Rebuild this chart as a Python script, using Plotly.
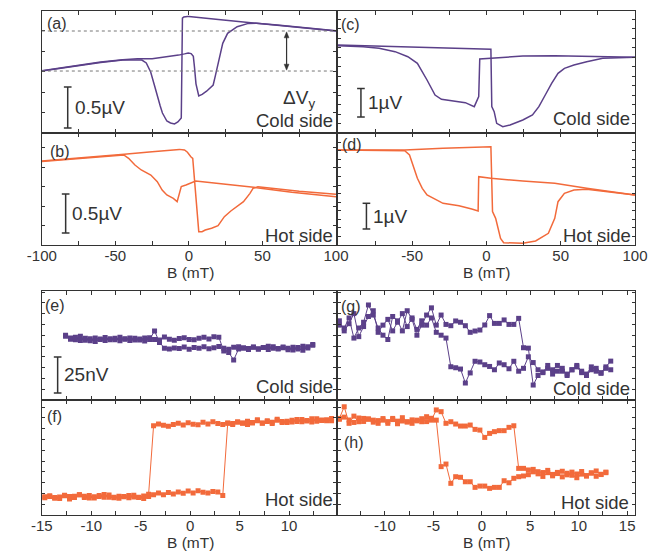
import plotly.graph_objects as go

W, H = 670, 552
PURPLE = '#5b4089'
ORANGE = '#f26a3b'
INK = '#333333'
FONT = 'Arial, Liberation Sans, Helvetica, sans-serif'

# ---------------- data: top panels (B in mT, V in microvolt) ----------------
a1_B = [-100, -80, -60, -45, -35, -32, -29, -26, -23.5, -21.5, -19.5, -18, -15, -12.5, -9.8, -7.5, -6.5, -5.2, -4.4, -3.5, -1, 0, 20, 40, 60, 80, 100]
a1_V = [0.756, 0.811, 0.860, 0.890, 0.896, 0.890, 0.854, 0.744, 0.585, 0.439, 0.329, 0.244, 0.146, 0.122, 0.110, 0.134, 0.159, 0.183, 1.402, 1.415, 1.421, 1.421, 1.384, 1.348, 1.311, 1.277, 1.244]
a2_B = [-100, -80, -60, -45, -35, -25, -15, -7, -3, -0.5, 1.5, 3.0, 3.8, 4.8, 6.7, 9, 12, 15, 16.5, 18, 19.8, 21.5, 23, 26.3, 32.8, 40.4, 46, 60, 80, 100]
a2_V = [0.760, 0.815, 0.865, 0.894, 0.905, 0.905, 0.927, 0.950, 0.965, 0.976, 0.968, 0.935, 0.80, 0.60, 0.451, 0.47, 0.51, 0.56, 0.585, 0.70, 0.85, 0.98, 1.094, 1.216, 1.297, 1.337, 1.340, 1.316, 1.282, 1.248]
a_levels = [0.756, 1.244]
a_arrow_B = 66.4

b1_B = [-100, -70, -44, -25, -6.5, -3, -1.0, 1.3, 2.6, 6.7, 8.9, 11.1, 15.4, 19.8, 24.1, 28.5, 32.8, 37.1, 41.5, 43.6, 46.9, 52.3, 75, 100]
b1_V = [1.077, 1.12, 1.162, 1.195, 1.226, 1.218, 1.19, 1.132, 1.111, 0.171, 0.171, 0.192, 0.214, 0.248, 0.363, 0.436, 0.491, 0.556, 0.662, 0.726, 0.748, 0.735, 0.69, 0.650]
b2_B = [-100, -70, -44.3, -41, -36.7, -32.4, -25.9, -21.5, -18.2, -15, -10.6, -8, -6.5, -5.2, -2, 1.3, 4.6, 25, 46, 70, 100]
b2_V = [1.072, 1.115, 1.154, 1.111, 1.026, 0.962, 0.897, 0.812, 0.705, 0.641, 0.598, 0.556, 0.66, 0.748, 0.769, 0.791, 0.821, 0.778, 0.735, 0.675, 0.620]

c1_B = [-100, -50, 0, 3.0, 3.6, 5.2, 6.9, 9.5, 11, 15.9, 24.5, 31, 35.3, 39.6, 43.9, 48.2, 52.5, 58.9, 67.5, 78.3, 100]
c1_V = [3.088, 3.02, 2.955, 2.936, 0.924, 0.749, 0.339, 0.246, 0.222, 0.281, 0.456, 0.632, 0.924, 1.333, 1.743, 2.094, 2.269, 2.386, 2.503, 2.620, 2.655]
c2_B = [-100, -83, -72.3, -61.5, -52.9, -46.5, -40, -34.6, -30.3, -22.8, -14.2, -8.2, -6.0, -5.2, -4.5, 24.5, 46, 78.3, 100]
c2_V = [3.064, 3.029, 2.971, 2.854, 2.678, 2.444, 1.860, 1.333, 1.181, 1.135, 1.064, 0.924, 1.158, 1.275, 2.596, 2.702, 2.713, 2.678, 2.655]

d1_B = [-100, -55, -29.2, 3.0, 4.1, 6.2, 9.5, 11.6, 24.5, 33.1, 41.7, 46, 48.2, 52.5, 58.9, 67.5, 100]
d1_V = [3.696, 3.696, 3.761, 3.826, 1.297, 1.038, 0.259, 0.091, 0.065, 0.156, 0.454, 1.038, 1.686, 2.010, 2.140, 2.166, 1.946]
d2_B = [-100, -55, -51.8, -49.7, -47.5, -46.5, -43.2, -40, -29.2, -18.5, -9.9, -5.6, -5.2, 3.0, 24.5, 46, 67.5, 100]
d2_V = [3.70, 3.671, 3.502, 3.113, 2.724, 2.594, 2.205, 1.946, 1.621, 1.530, 1.401, 1.323, 2.659, 2.594, 2.490, 2.399, 2.205, 1.946]

# ---------------- data: bottom panels (B grid in mT, V in nV) ----------------
e_B0, f_B0, g_B0, h_B0 = -12.6, -14.7, -14.7, -14.7
B_STEP = 0.5
e_up = [45.0, 43.0, 41.8, 44.2, 41.5, 42.6, 40.6, 42.3, 43.4, 41.9, 42.8, 41.2, 42.5, 43.1, 41.7, 42.4, 41.0, 43.2, 42.1, 41.6,
        43.8, 42.2, 41.5, 42.7, 43.3, 42.0, 41.8, 42.9, 43.5, 42.4, 44.0, 43.6,
        34.0, 33.0, 27.8, 35.4, 36.2, 35.0, 36.8, 35.6, 36.4, 35.1, 37.0, 35.8, 36.3, 34.9, 36.6, 35.5, 34.6, 36.9, 38.0]
e_down = [44.3, 42.2, 43.5, 41.4, 42.9, 41.1, 43.0, 42.0, 41.4, 42.6, 41.9, 43.5, 42.2, 41.3, 42.8, 41.7, 43.1, 42.0, 48.0,
          40.0, 36.0, 35.4, 36.2, 35.7, 36.8, 35.2, 36.5, 35.9, 36.9, 35.6, 36.3, 37.1, 36.0, 35.3, 36.6, 37.0, 36.1, 35.8, 36.7,
          35.2, 36.4, 37.3, 36.0, 35.5, 36.8, 35.9, 34.8, 36.5, 37.4, 36.2, 38.5]
f_up = [12.0, 12.8, 11.6, 12.5, 13.4, 11.2, 13.0, 14.0, 12.2, 13.6, 11.8, 12.9, 14.3, 12.4, 11.9, 13.1, 12.6, 12.0, 13.8, 12.3,
        11.5, 12.8, 14.0, 15.2, 14.1, 15.6, 14.6, 16.0, 15.1, 16.6, 15.3, 16.9, 15.8, 15.2, 16.4, 15.9, 13.6,
        63.8, 62.9, 64.6, 63.7, 65.1, 64.0, 66.2, 63.9, 65.5, 64.4, 66.6, 65.0, 64.2, 65.8, 64.9, 66.4, 65.3, 64.7, 66.9, 65.6, 66.1, 65.4]
f_down = [12.6, 13.3, 12.1, 11.4, 13.7, 12.9, 12.2, 14.1, 13.0, 11.8, 12.7, 13.5, 12.4, 13.9, 12.3, 11.7, 12.9, 13.6, 12.5, 12.1, 13.2, 14.5,
          62.0, 63.2, 62.4, 61.6, 62.9, 63.8, 62.5, 64.1, 63.0, 62.7, 64.4, 63.3, 64.8, 63.6, 62.9, 64.0, 63.5, 64.6, 63.9, 62.8,
          64.3, 65.5, 63.7, 64.9, 63.6, 65.9, 64.2, 65.1, 64.6, 66.3, 64.8, 65.7, 66.8, 65.2, 66.0, 65.4, 67.0]
g_up = [52, 50, 57, 43, 50, 54, 66, 59, 50, 45, 42, 58, 55, 48, 62, 56, 45, 52, 59, 64,
        52, 59, 52.5, 51.6, 54.9, 54, 51.6, 47, 47.9, 48.6, 52.1, 58.6, 53.2, 53.2, 55.6, 52.5, 52.5, 56.7,
        36.3, 36, 10.4, 17, 19.5, 22, 21, 24, 20, 18, 21, 23, 19, 17, 21, 20, 18.5, 22, 21]
g_down = [55, 48, 53, 60, 44, 51, 58, 62, 47, 52, 56, 48, 54, 60, 51, 57, 49, 55, 52, 57,
          47, 45, 43,
          23.1, 22.4, 21.5, 11.8, 18.8, 26.9, 26.4, 24.5, 23.3, 21, 25.7, 24.5, 21.7, 26.9, 20,
          22, 30, 26, 21, 19, 24, 18, 20, 22, 17, 21, 24, 20, 18, 23, 22, 19, 23, 27]
h_up = [67.1, 75.2, 63.7, 68.7, 64.8, 67.1, 66.5, 65.9, 63.7, 65.9, 63.7, 67.1, 63.4, 65.3, 64.8, 63.7, 65.9, 64.8, 68.3, 65.9,
        73, 71.8, 63.7, 64.8, 63.2, 61.8, 61.8, 62.5, 59.5, 59, 53.9, 56.7, 57.9, 58.6, 58.6, 60.9, 62.0,
        32.4, 32.4, 31.3, 31.7, 30.1, 29.5, 31.0, 28.2, 29.6, 30.4, 27.9, 29.8, 28.5, 30.2, 27.4, 29.1, 30.6, 28.3, 29.4]
h_down = [66.5, 68.0, 66.0, 64.3, 67.4, 65.0, 66.8, 64.5, 65.6, 67.0, 64.9, 66.3, 65.2, 67.6, 64.6, 66.1, 65.4, 66.9, 64.9, 67.2, 65.9,
          33.6, 35.4, 22, 26.6, 26.2, 23.1, 23.1, 19.2, 20.1, 20.1, 18.5, 19.2, 19.2, 23.8, 22.4, 25.5,
          26.6, 27.1, 28.0, 30.0, 28.6, 26.8, 29.4, 27.2, 28.8, 26.5, 29.0, 27.6, 25.9, 28.4, 27.0, 29.3, 26.9, 28.1, 29.8]

# scale bars: (panel, B position, V bottom, length, label)
scale_bars = [('a', -82.4, 0.061, 0.5, '0.5µV'), ('b', -83.8, 0.154, 0.5, '0.5µV'),
              ('c', -84.5, 0.561, 1.0, '1µV'), ('d', -80.8, 0.623, 1.0, '1µV'),
              ('e', -13.4, 4.9, 25.0, '25nV')]

# tick labels
top_vals_b = [-100, -50, 0, 50, 100]
top_vals_d = [-50, 0, 50, 100]
bot_vals_f = [-15, -10, -5, 0, 5, 10]
bot_vals_h = [-10, -5, 0, 5, 10, 15]


def grid(b0, n):
    return [round(b0 + B_STEP * i, 2) for i in range(n)]


# ---------------- layout geometry (pixels) ----------------
P = {
    'a': (1, 28, 335, 11, 133, [-100, 100], [0, 1.488]),
    'b': (2, 28, 335, 133, 245, [-100, 100], [0, 1.436]),
    'c': (3, 337, 647, 11, 133, [-100, 100], [0, 4.281]),
    'd': (4, 337, 647, 133, 245, [-100, 100], [0, 4.358]),
    'e': (5, 28, 335, 291, 400, [-15, 14.75], [0, 75.7]),
    'f': (6, 28, 335, 400, 515, [-15, 14.75], [0, 79.9]),
    'g': (7, 337, 647, 291, 400, [-14.85, 15.8], [0, 75.7]),
    'h': (8, 337, 647, 400, 515, [-14.85, 15.8], [0, 79.9]),
}
YDT = {'a': 0.25, 'b': 0.25, 'c': 1 / 3, 'd': 1 / 3, 'e': 7.5, 'f': 7.5, 'g': 7.5, 'h': 7.5}
TICKS = {'a': top_vals_b, 'b': top_vals_b, 'c': top_vals_d, 'd': top_vals_d,
         'e': bot_vals_f, 'f': bot_vals_f, 'g': bot_vals_h, 'h': bot_vals_h}

fig = go.Figure()


def ax(name):
    i = P[name][0]
    return ('x' if i == 1 else f'x{i}'), ('y' if i == 1 else f'y{i}')


def add_line(name, B, V, color):
    xa, ya = ax(name)
    fig.add_trace(go.Scatter(x=B, y=V, mode='lines', xaxis=xa, yaxis=ya,
                             line=dict(color=color, width=1.5), hoverinfo='skip'))


def add_pts(name, B, V, color):
    xa, ya = ax(name)
    fig.add_trace(go.Scatter(x=B, y=V, mode='lines+markers', xaxis=xa, yaxis=ya,
                             line=dict(color=color, width=1),
                             marker=dict(symbol='square', size=5, color=color, line=dict(width=0)),
                             hoverinfo='skip'))


add_line('a', a1_B, a1_V, PURPLE); add_line('a', a2_B, a2_V, PURPLE)
add_line('b', b1_B, b1_V, ORANGE); add_line('b', b2_B, b2_V, ORANGE)
add_line('c', c1_B, c1_V, PURPLE); add_line('c', c2_B, c2_V, PURPLE)
add_line('d', d1_B, d1_V, ORANGE); add_line('d', d2_B, d2_V, ORANGE)
add_pts('e', grid(e_B0, len(e_up)), e_up, PURPLE); add_pts('e', grid(e_B0, len(e_down)), e_down, PURPLE)
add_pts('f', grid(f_B0, len(f_up)), f_up, ORANGE); add_pts('f', grid(f_B0, len(f_down)), f_down, ORANGE)
add_pts('g', grid(g_B0, len(g_up)), g_up, PURPLE); add_pts('g', grid(g_B0, len(g_down)), g_down, PURPLE)
add_pts('h', grid(h_B0, len(h_up)), h_up, ORANGE); add_pts('h', grid(h_B0, len(h_down)), h_down, ORANGE)

layout = dict(width=W, height=H, margin=dict(l=0, r=0, t=0, b=0), showlegend=False,
              paper_bgcolor='white', plot_bgcolor='white', font=dict(family=FONT, color=INK))

for name, (i, l, r, t, b, xr, yr) in P.items():
    key = '' if i == 1 else str(i)
    minor_dt = 25 if name in 'abcd' else 2.5
    tv = TICKS[name]
    xa = dict(domain=[l / W, r / W], range=xr, anchor='y' + key, showgrid=False, zeroline=False,
              showline=True, linecolor=INK, linewidth=1, mirror='ticks',
              ticks='inside', ticklen=4, tickcolor=INK, tickwidth=1,
              tickvals=tv, ticktext=[str(v) for v in tv], showticklabels=name in 'bdfh',
              tickfont=dict(size=15, color=INK, family=FONT), ticklabelstandoff=-3,
              minor=dict(dtick=minor_dt, tick0=0, ticks='inside', ticklen=4, tickcolor=INK, tickwidth=1))
    ya = dict(domain=[1 - b / H, 1 - t / H], range=yr, anchor='x' + key, showgrid=False, zeroline=False,
              showline=True, linecolor=INK, linewidth=1, mirror='ticks',
              ticks='inside', ticklen=3, tickcolor=INK, tickwidth=1, dtick=YDT[name], tick0=0,
              showticklabels=False)
    layout['xaxis' + key] = xa
    layout['yaxis' + key] = ya

shapes = []
annotations = []

# dotted reference levels and double arrow in (a)
for lev in a_levels:
    shapes.append(dict(type='line', xref='x', yref='y', x0=-100, x1=100, y0=lev, y1=lev,
                       line=dict(color='#777777', width=1, dash='dot')))
xpp_a = (335 - 28) / 200.0
ypp_a = (133 - 11) / 1.488
hw, hh = 2.5 / xpp_a, 6 / ypp_a
lo, hi = a_levels[0] + 0.01, a_levels[1] - 0.01
shapes.append(dict(type='line', xref='x', yref='y', x0=a_arrow_B, x1=a_arrow_B, y0=lo + hh * 0.5, y1=hi - hh * 0.5,
                   line=dict(color=INK, width=1.2)))
shapes.append(dict(type='path', xref='x', yref='y', fillcolor=INK, line=dict(color=INK, width=0.5),
                   path=f'M {a_arrow_B - hw} {hi - hh} L {a_arrow_B} {hi} L {a_arrow_B + hw} {hi - hh} Z'))
shapes.append(dict(type='path', xref='x', yref='y', fillcolor=INK, line=dict(color=INK, width=0.5),
                   path=f'M {a_arrow_B - hw} {lo + hh} L {a_arrow_B} {lo} L {a_arrow_B + hw} {lo + hh} Z'))

# scale bars
for name, xb, y0, ln, lab in scale_bars:
    i, l, r, t, b, xr, yr = P[name]
    xa, ya = ax(name)
    xpp = (r - l) / (xr[1] - xr[0])
    cap = 4 / xpp
    for yy in (y0, y0 + ln):
        shapes.append(dict(type='line', xref=xa, yref=ya, x0=xb - cap, x1=xb + cap, y0=yy, y1=yy,
                           line=dict(color=INK, width=1.5)))
    shapes.append(dict(type='line', xref=xa, yref=ya, x0=xb, x1=xb, y0=y0, y1=y0 + ln,
                       line=dict(color=INK, width=1.5)))
    annotations.append(dict(xref=xa, yref=ya, x=xb + 5 / xpp, y=y0 + ln / 2, text=lab, showarrow=False,
                            xanchor='left', yanchor='middle', font=dict(size=19, color=INK, family=FONT)))


def txt(text, px, py, anchor='left', size=18.5, pad=1):
    annotations.append(dict(xref='paper', yref='paper', x=px / W, y=1 - py / H, text=text,
                            showarrow=False, xanchor=anchor, yanchor='middle', borderpad=pad,
                            font=dict(size=size, color=INK, family=FONT)))


for lab, px, py in [('(a)', 31, 24), ('(b)', 34, 151), ('(c)', 338, 25), ('(d)', 339, 145),
                    ('(e)', 29, 305), ('(f)', 31, 416), ('(g)', 338, 306), ('(h)', 341, 442)]:
    txt(lab, px, py, 'left', 16)

txt('ΔV<sub>y</sub>', 296, 99, 'center', 19)
for s, px, py in [('Cold side', 334, 121), ('Hot side', 334, 235), ('Cold side', 644, 118), ('Hot side', 645, 235),
                  ('Cold side', 334, 386), ('Hot side', 334, 499), ('Cold side', 644, 388), ('Hot side', 643, 502)]:
    txt(s, px, py, 'right', 18.5)

# axis titles
for px, py in [(183, 272), (492, 272), (183, 542), (492, 542)]:
    txt('B (mT)', px, py, 'center', 15.5, 0)

layout['shapes'] = shapes
layout['annotations'] = annotations
fig.update_layout(**layout)
fig.write_html('out.html')
